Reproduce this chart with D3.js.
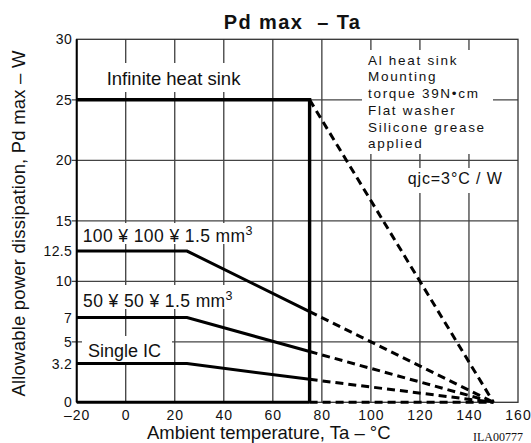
<!DOCTYPE html>
<html>
<head>
<meta charset="utf-8">
<script src="https://cdn.jsdelivr.net/npm/d3@7"></script>
<style>
  body { margin: 0; background: #fff; }
  svg text { font-family: "Liberation Sans", Arial, sans-serif; fill: #111; }
</style>
</head>
<body>
<div id="chart"></div>
<script>
// values
const xTicks = [-20, 0, 20, 40, 60, 80, 100, 120, 140, 160];
const yTicks = [0, 3.2, 5, 7, 10, 12.5, 15, 20, 25, 30];
const gridX = [0, 20, 40, 60, 80, 100, 120, 140];
const gridY = [5, 10, 15, 20, 25];

// solid part of each curve (Ta, W)
const infiniteSolid = [[-20, 25], [75, 25], [75, 0]];
const board100Solid = [[-20, 12.5], [25, 12.5], [75, 7.5]];
const board50Solid = [[-20, 7], [25, 7], [75, 4.2]];
const singleSolid = [[-20, 3.2], [25, 3.2], [75, 1.9]];
const baseSolid = [[-20, 0], [75, 0]];

// dashed extension down to 150 °C
const infiniteDash = [[75, 25], [150, 0]];
const board100Dash = [[75, 7.5], [150, 0]];
const board50Dash = [[75, 4.2], [150, 0]];
const singleDash = [[75, 1.9], [150, 0]];
const baseDash = [[75, 0], [150, 0]];

const noteLines = ["Al heat sink", "Mounting", "torque 39N\u2022cm", "Flat washer", "Silicone grease", "applied"];

const width = 531, height = 443;

const svg = d3.select("#chart")
              .append("svg")
              .attr("width", width)
              .attr("height", height);

const x = d3.scaleLinear().domain([-20, 160]).range([76.7, 518]);
const y = d3.scaleLinear().domain([0, 30]).range([402.3, 39.3]);

// grid
const grid = svg.append("g").attr("class", "grid");

grid.selectAll("line.gx")
    .data(gridX)
    .join("line")
    .attr("class", "gx")
    .attr("x1", d => x(d)).attr("x2", d => x(d))
    .attr("y1", y(30)).attr("y2", y(0))
    .style("stroke", "#2e2e2e")
    .style("stroke-width", "1.2px");

grid.selectAll("line.gy")
    .data(gridY)
    .join("line")
    .attr("class", "gy")
    .attr("x1", x(-20) - 5).attr("x2", x(160))
    .attr("y1", d => y(d)).attr("y2", d => y(d))
    .style("stroke", "#444")
    .style("stroke-width", "1.2px");

// frame
svg.append("rect")
    .attr("x", x(-20)).attr("y", y(30))
    .attr("width", x(160) - x(-20))
    .attr("height", y(0) - y(30))
    .attr("fill", "none")
    .attr("stroke", "#333")
    .attr("stroke-width", 1.3);

svg.append("line")
    .attr("x1", x(-20)).attr("x2", x(-20))
    .attr("y1", y(30)).attr("y2", y(0))
    .attr("stroke", "#000")
    .attr("stroke-width", 2);

// white boxes behind the labels hide the grid
const boxes = [
    [100, 63, 150, 29],
    [80, 223, 185, 21],
    [80, 285, 165, 24],
    [82, 336, 90, 26],
    [362, 50, 131, 104],
    [400, 168, 112, 25]
];
svg.append("g")
    .selectAll("rect")
    .data(boxes)
    .join("rect")
    .attr("x", d => d[0]).attr("y", d => d[1])
    .attr("width", d => d[2]).attr("height", d => d[3])
    .attr("fill", "#fff");

// curves
const lineGen = d3.line().x(d => x(d[0])).y(d => y(d[1]));

const solids = [infiniteSolid, board100Solid, board50Solid, singleSolid, baseSolid];
const dashes = [infiniteDash, board100Dash, board50Dash, singleDash, baseDash];

svg.append("g")
    .selectAll("path")
    .data(solids)
    .join("path")
    .attr("d", lineGen)
    .attr("fill", "none")
    .attr("stroke", "#000")
    .attr("stroke-width", (d, i) => i == 0 ? 3.4 : 3)
    .attr("stroke-linejoin", "miter");

svg.append("g")
    .selectAll("path")
    .data(dashes)
    .join("path")
    .attr("d", lineGen)
    .attr("fill", "none")
    .attr("stroke", "#000")
    .attr("stroke-width", 3)
    .attr("stroke-dasharray", "8,5");

// axes
const yAxis = svg.append("g")
    .attr("transform", `translate(${x(-20)},0)`)
    .call(d3.axisLeft(y).tickValues(yTicks).tickSize(0).tickPadding(4.7)
            .tickFormat(d => String(d)));
yAxis.select(".domain").remove();
yAxis.selectAll("text")
    .style("font-size", "14px")
    .style("letter-spacing", "0.3px");

const xAxis = svg.append("g")
    .attr("transform", `translate(0,${y(0)})`)
    .call(d3.axisBottom(x).tickValues(xTicks).tickSize(0).tickPadding(8)
            .tickFormat(d => d < 0 ? "\u2013" + Math.abs(d) : String(d)));
xAxis.select(".domain").remove();
xAxis.selectAll("text")
    .style("font-size", "14px")
    .style("letter-spacing", "1px");

// title and axis labels
svg.append("text")
    .attr("x", 292.5).attr("y", 29.3)
    .attr("text-anchor", "middle")
    .style("font-size", "20px")
    .style("font-weight", "bold")
    .style("letter-spacing", "1.4px")
    .style("white-space", "pre")
    .text("Pd max  \u2013 Ta");

svg.append("text")
    .attr("x", 147).attr("y", 439)
    .style("font-size", "18.5px")
    .text("Ambient temperature, Ta \u2013 \u00b0C");

svg.append("text")
    .attr("transform", "translate(24.5,223.5) rotate(-90)")
    .attr("text-anchor", "middle")
    .style("font-size", "18.5px")
    .style("letter-spacing", "0.2px")
    .text("Allowable power dissipation, Pd max \u2013 W");

svg.append("text")
    .attr("x", 523).attr("y", 441)
    .attr("text-anchor", "end")
    .style("font-family", "'Liberation Serif', 'Times New Roman', serif")
    .style("font-size", "12px")
    .text("ILA00777");

// curve labels
svg.append("text")
    .attr("x", 106.7).attr("y", 85)
    .style("font-size", "18.5px")
    .text("Infinite heat sink");

const sizeLabels = [["100 \u00a5 100 \u00a5 1.5 mm", 82.7, 241.7], ["50 \u00a5 50 \u00a5 1.5 mm", 83, 306.5]];
sizeLabels.forEach(function (s) {
    const t = svg.append("text")
        .attr("x", s[1]).attr("y", s[2])
        .style("font-size", "17.5px")
        .style("letter-spacing", "0.4px")
        .style("white-space", "pre");
    t.append("tspan").text(s[0]);
    t.append("tspan")
        .attr("dy", -7)
        .style("font-size", "12.5px")
        .text("3");
});

svg.append("text")
    .attr("x", 88).attr("y", 357.3)
    .style("font-size", "18px")
    .text("Single IC");

// mounting note
svg.append("g")
    .selectAll("text")
    .data(noteLines)
    .join("text")
    .attr("x", 368)
    .attr("y", (d, i) => 64.7 + i * 16.7)
    .style("font-size", "13.5px")
    .style("letter-spacing", "1.7px")
    .text(d => d);

svg.append("text")
    .attr("x", 407.7).attr("y", 183.5)
    .style("font-size", "16px")
    .style("letter-spacing", "0.9px")
    .text("qjc=3\u00b0C / W");
</script>
</body>
</html>
